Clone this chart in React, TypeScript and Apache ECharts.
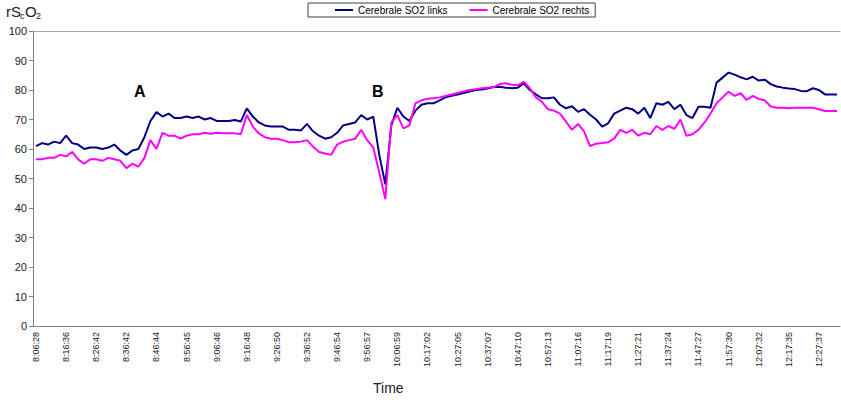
import React, { useEffect, useRef } from "react";
import * as echarts from "echarts";

const tickLabels = [
  "8:06:28", "8:16:36", "8:26:42", "8:36:42", "8:46:44", "8:56:45", "9:06:46",
  "9:16:48", "9:26:50", "9:36:52", "9:46:54", "9:56:57", "10:06:59", "10:17:02",
  "10:27:05", "10:37:07", "10:47:10", "10:57:13", "11:07:16", "11:17:19",
  "11:27:21", "11:37:24", "11:47:27", "11:57:30", "12:07:32", "12:17:35", "12:27:37",
];

const linksValues = [
  61, 62, 61.5, 62.5, 62, 64.5, 62, 61.5, 60, 60.5,
  60.5, 60, 60.5, 61.5, 59.5, 58, 59.5, 60, 64, 69.5,
  72.5, 71, 72, 70.5, 70.5, 71, 70.5, 71, 70, 70.5,
  69.5, 69.5, 69.5, 69.8, 69.3, 73.8, 71, 69, 68, 67.6,
  67.6, 67.6, 66.5, 66.5, 66.3, 68.5, 66, 64.5, 63.5, 64,
  65.5, 68, 68.5, 69, 71.5, 70, 71, 58, 48, 68,
  74, 71, 69.5, 73, 75, 75.5, 75.5, 76.5, 77.5, 78,
  78.5, 79, 79.5, 80, 80.2, 80.5, 81, 81.1, 80.8, 80.6,
  80.8, 82.3, 80, 78.5, 77.2, 77.2, 77.5, 75, 73.8, 74.5,
  72.6, 73.5, 71.6, 70, 67.6, 68.7, 72, 73, 74, 73.5,
  72, 74, 70.5, 75.5, 75, 76, 73.5, 75, 71.5, 70.5,
  74.3, 74.3, 74, 82.5, 84.2, 85.9, 85.2, 84.3, 83.6, 84.5,
  83.2, 83.5, 82, 81.2, 80.8, 80.5, 80.3, 79.7, 79.6, 80.6,
  80, 78.5, 78.5, 78.5,
];

const rechtsValues = [
  56.5, 56.5, 57, 57, 58, 57.5, 59, 56.5, 55, 56.5,
  56.5, 56, 57, 56.5, 56, 53.5, 55, 54, 57, 63,
  60, 65.5, 64.5, 64.5, 63.5, 64.5, 65, 65, 65.5, 65.2,
  65.5, 65.3, 65.3, 65.3, 65, 71.5, 67.6, 65.3, 64, 63.5,
  63.5, 63, 62.3, 62.3, 62.5, 63, 60.8, 59, 58.5, 58,
  61.5, 62.5, 63, 63.5, 66.5, 63, 60.5, 52, 43, 69,
  71.5, 67, 68, 75.5, 76.5, 77, 77.2, 77.5, 78, 78.5,
  79, 79.5, 80, 80.3, 80.6, 80.8, 81, 82, 82.3, 81.8,
  81.6, 82.8, 80.6, 77.5, 76, 73.5, 73, 72, 69.3, 66.5,
  68.5, 66, 61, 61.8, 62, 62.3, 63.5, 66.5, 65.5, 66.5,
  64.5, 65.5, 65, 67.8, 66.5, 67.8, 66.8, 70, 64.5, 65,
  66.5, 69, 72, 75.5, 77.5, 79.4, 78, 78.9, 76.6, 78,
  77, 76.5, 74.4, 74, 74, 73.8, 74, 74, 74, 74,
  73.5, 72.9, 72.9, 72.9,
];

const seriesNames = ["Cerebrale SO2 links", "Cerebrale SO2 rechts"];
const annotations = ["A", "B"];

const FONT = "'Liberation Sans', Arial, sans-serif";

export default function App() {
  const ref = useRef<HTMLDivElement>(null);

  useEffect(() => {
    if (!ref.current) return;
    const chart = echarts.init(ref.current, null, { renderer: "svg" });
    const n = linksValues.length;
    const categories: string[] = [];
    for (let i = 0; i < n; i++) {
      const base = tickLabels[Math.floor(i / 5)] ?? tickLabels[tickLabels.length - 1];
      categories.push(i % 5 === 0 && Math.floor(i / 5) < tickLabels.length ? base : `${base} +${i % 5}`);
    }

    chart.setOption({
      animation: false,
      textStyle: { fontFamily: FONT },
      grid: { left: 33, right: 1, top: 31, bottom: 74, containLabel: false },
      legend: {
        left: 308,
        top: 3,
        padding: [2, 6, 2, 27],
        itemGap: 22,
        itemWidth: 18,
        itemHeight: 2,
        icon: "rect",
        backgroundColor: "#ffffff",
        borderColor: "#404040",
        borderWidth: 1,
        borderRadius: 0,
        textStyle: { fontFamily: FONT, fontSize: 10, color: "#000" },
        data: seriesNames.map((name) => ({ name, icon: "rect" })),
      },
      xAxis: [
        {
          type: "category",
          data: categories,
          boundaryGap: true,
          axisLine: { lineStyle: { color: "#808080", width: 1 } },
          axisTick: { interval: 4, length: 4, alignWithLabel: false, lineStyle: { color: "#808080" } },
          axisLabel: {
            interval: 4,
            rotate: 90,
            fontSize: 9,
            color: "#1a1a1a",
            fontFamily: FONT,
            margin: 6,
          },
          splitLine: { show: false },
        },
        {
          type: "category",
          data: categories,
          position: "top",
          boundaryGap: true,
          axisLine: { lineStyle: { color: "#a6a6a6", width: 1 } },
          axisTick: { show: false },
          axisLabel: { show: false },
          splitLine: { show: false },
        },
      ],
      yAxis: {
        type: "value",
        min: 0,
        max: 100,
        interval: 10,
        axisLine: { show: true, lineStyle: { color: "#808080", width: 1 } },
        axisTick: { show: true, length: 4, lineStyle: { color: "#808080" } },
        axisLabel: { fontSize: 11, color: "#222", fontFamily: FONT, margin: 6 },
        splitLine: { show: false },
      },
      series: [
        {
          name: seriesNames[0],
          type: "line",
          data: linksValues,
          symbol: "none",
          showSymbol: false,
          color: "#000080",
          lineStyle: { color: "#000080", width: 2 },
        },
        {
          name: seriesNames[1],
          type: "line",
          data: rechtsValues,
          symbol: "none",
          showSymbol: false,
          color: "#ff00ff",
          lineStyle: { color: "#ff00ff", width: 2 },
        },
      ],
      graphic: [
        { type: "text", left: 6, top: 4, style: { text: "rS", fontSize: 15, fontFamily: FONT, fill: "#222" } },
        { type: "text", left: 20, top: 11, style: { text: "c", fontSize: 9, fontFamily: FONT, fill: "#222" } },
        { type: "text", left: 25, top: 4, style: { text: "O", fontSize: 15, fontFamily: FONT, fill: "#222" } },
        { type: "text", left: 36, top: 11, style: { text: "2", fontSize: 9, fontFamily: FONT, fill: "#222" } },
        { type: "text", left: 134, top: 83, style: { text: annotations[0], fontSize: 16, fontWeight: "bold", fontFamily: FONT, fill: "#000" } },
        { type: "text", left: 372, top: 83, style: { text: annotations[1], fontSize: 16, fontWeight: "bold", fontFamily: FONT, fill: "#000" } },
        { type: "text", left: 373, top: 381, style: { text: "Time", fontSize: 14, fontFamily: FONT, fill: "#222" } },
      ],
    });

    return () => chart.dispose();
  }, []);

  return (
    <div
      ref={ref}
      style={{ position: "fixed", left: 0, top: 0, width: 841, height: 400, background: "#fff" }}
    />
  );
}
